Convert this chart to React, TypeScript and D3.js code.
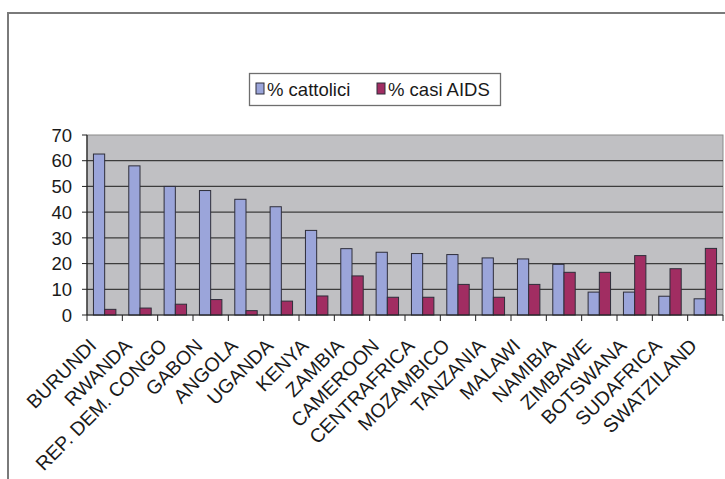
import React from "react";
import * as d3 from "d3";

const categories = [
  "BURUNDI", "RWANDA", "REP. DEM. CONGO", "GABON", "ANGOLA", "UGANDA", "KENYA",
  "ZAMBIA", "CAMEROON", "CENTRAFRICA", "MOZAMBICO", "TANZANIA", "MALAWI",
  "NAMIBIA", "ZIMBAWE", "BOTSWANA", "SUDAFRICA", "SWATZILAND",
];
const cattolici = [62.6, 58, 50, 48.4, 45, 42.1, 32.9, 25.8, 24.4, 23.9, 23.5, 22.2, 21.8, 19.7, 8.9, 8.9, 7.3, 6.3];
const aids = [2.2, 2.7, 4.2, 6.0, 1.7, 5.4, 7.4, 15.2, 6.9, 6.9, 11.9, 6.9, 11.9, 16.6, 16.6, 23.1, 18.0, 25.9];
const seriesNames = ["% cattolici", "% casi AIDS"];
const yTicks = [0, 10, 20, 30, 40, 50, 60, 70];

const W = 725;
const H = 479;
const plot = { left: 87, right: 723, top: 135, bottom: 315 };
const colors = ["#9ba5da", "#a12d62"];
const FONT = "'Liberation Sans', Arial, Helvetica, sans-serif";

export default function App() {
  const x0 = d3
    .scaleBand<string>()
    .domain(categories)
    .range([plot.left, plot.right])
    .paddingInner(0.365)
    .paddingOuter(0.1825);
  const x1 = d3
    .scaleBand<string>()
    .domain(seriesNames)
    .range([0, x0.bandwidth()]);
  const y = d3.scaleLinear().domain([0, 70]).range([plot.bottom, plot.top]);
  const step = x0.step();
  const series = [cattolici, aids];

  return (
    <svg
      width={W}
      height={H}
      style={{ position: "absolute", left: 0, top: 0, background: "#fff" }}
      fontFamily={FONT}
    >
      <rect x={8} y={13} width={740} height={500} fill="#fff" stroke="#7a7a7a" strokeWidth={2} />
      {/* plot background */}
      <rect
        x={plot.left}
        y={plot.top}
        width={plot.right - plot.left}
        height={plot.bottom - plot.top}
        fill="#c0c0c3"
        stroke="#8a8a8a"
        strokeWidth={1}
      />
      {/* gridlines */}
      {yTicks.filter((t) => t > 0 && t < 70).map((t) => (
        <line
          key={t}
          x1={plot.left}
          x2={plot.right}
          y1={y(t)}
          y2={y(t)}
          stroke="#3c3c3c"
          strokeWidth={1.2}
        />
      ))}
      {/* bars */}
      {categories.map((c, i) => (
        <g key={c}>
          {series.map((s, j) => (
            <rect
              key={j}
              x={(x0(c) as number) + (x1(seriesNames[j]) as number)}
              y={y(s[i])}
              width={x1.bandwidth()}
              height={y(0) - y(s[i])}
              fill={colors[j]}
              stroke="#2e2e3a"
              strokeWidth={1}
            />
          ))}
        </g>
      ))}
      {/* axes */}
      <line x1={plot.left} x2={plot.left} y1={plot.top} y2={plot.bottom} stroke="#222" strokeWidth={1.2} />
      <line x1={plot.left} x2={plot.right} y1={plot.bottom} y2={plot.bottom} stroke="#222" strokeWidth={1.2} />
      {yTicks.map((t) => (
        <g key={t}>
          <line x1={plot.left - 5} x2={plot.left} y1={y(t)} y2={y(t)} stroke="#222" strokeWidth={1} />
          <text
            x={72}
            y={y(t)}
            dy="0.36em"
            textAnchor="end"
            fontSize={18.5}
            fill="#1a1a1a"
          >
            {t}
          </text>
        </g>
      ))}
      {d3.range(categories.length + 1).map((k) => (
        <line
          key={k}
          x1={plot.left + k * step}
          x2={plot.left + k * step}
          y1={plot.bottom}
          y2={plot.bottom + 6}
          stroke="#222"
          strokeWidth={1}
        />
      ))}
      {categories.map((c) => {
        const cx = (x0(c) as number) + x0.bandwidth() / 2;
        return (
          <text
            key={c}
            transform={`translate(${cx - 7},${plot.bottom + 32}) rotate(-45)`}
            textAnchor="end"
            fontSize={19.5}
            fill="#1a1a1a"
          >
            {c}
          </text>
        );
      })}
      {/* legend */}
      <rect x={249.5} y={73.5} width={251} height={32} fill="#fff" stroke="#6e6e6e" strokeWidth={1.3} />
      {seriesNames.map((n, j) => {
        const lx = j === 0 ? 256 : 377;
        return (
          <g key={n}>
            <rect x={lx} y={83} width={8} height={11} fill={colors[j]} stroke="#2e2e3a" strokeWidth={1} />
            <text x={lx + 11} y={96} fontSize={18.5} fill="#1a1a1a">
              {n}
            </text>
          </g>
        );
      })}
    </svg>
  );
}
